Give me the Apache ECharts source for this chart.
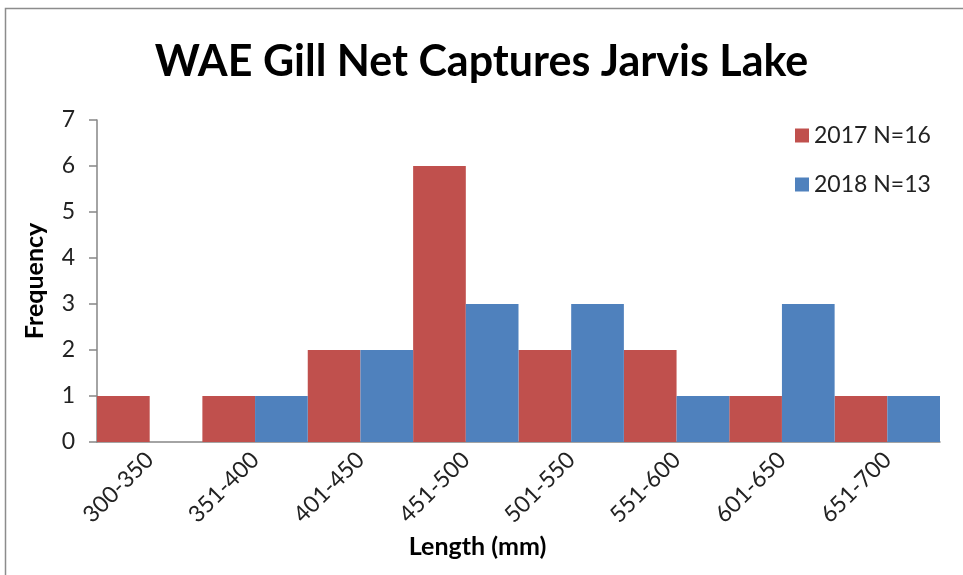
<!DOCTYPE html>
<html>
<head>
<meta charset="utf-8">
<script src="https://cdn.jsdelivr.net/npm/echarts@6/dist/echarts.min.js"></script>
<style>
  html, body { margin: 0; padding: 0; background: #fff; }
  #chart { width: 963px; height: 575px; }
</style>
</head>
<body>
<div id="chart"></div>
<script>
  var categories = ['300-350', '351-400', '401-450', '451-500', '501-550', '551-600', '601-650', '651-700']
  var data2017 = [1, 1, 2, 6, 2, 2, 1, 1]
  var data2018 = [0, 1, 2, 3, 3, 1, 3, 1]
  var yTicks = { min: 0, max: 7, interval: 1 }

  var font = 'Lato, "Open Sans", sans-serif'
  var axisGray = '#868686'

  var myChart = echarts.init(document.getElementById('chart'))
  myChart.setOption({
    animation: false,
    title: {
      text: 'WAE Gill Net Captures Jarvis Lake',
      left: 'center',
      top: 36,
      textStyle: { fontFamily: font, fontSize: 43, fontWeight: 'bold', color: '#000' }
    },
    legend: {
      orient: 'vertical',
      left: 790,
      top: 119,
      itemWidth: 14,
      itemHeight: 14,
      itemGap: 26,
      icon: 'rect',
      textStyle: { fontFamily: font, fontSize: 23, color: '#222' },
      data: ['2017 N=16', '2018 N=13']
    },
    grid: { left: 97, right: 23, top: 120, bottom: 133 },
    graphic: [{
      type: 'rect',
      shape: { x: 5.5, y: 8.5, width: 970, height: 580 },
      style: { fill: 'none', stroke: '#8c8c8c', lineWidth: 1.5 },
      silent: true
    }],
    xAxis: {
      type: 'category',
      data: categories,
      name: 'Length (mm)',
      nameLocation: 'middle',
      nameGap: 92,
      nameTextStyle: { fontFamily: font, fontSize: 25, fontWeight: 'bold', color: '#000', padding: [0, 82, 0, 0] },
      axisLine: { lineStyle: { color: axisGray, width: 1.5 } },
      axisTick: { length: 7, lineStyle: { color: axisGray, width: 1.5 } },
      axisLabel: { rotate: 45, margin: 14, fontFamily: font, fontSize: 23, color: '#222' }
    },
    yAxis: {
      type: 'value',
      min: yTicks.min,
      max: yTicks.max,
      interval: yTicks.interval,
      name: 'Frequency',
      nameLocation: 'middle',
      nameGap: 50,
      nameTextStyle: { fontFamily: font, fontSize: 25, fontWeight: 'bold', color: '#000' },
      splitLine: { show: false },
      axisLine: { show: true, lineStyle: { color: axisGray, width: 1.5 } },
      axisTick: { show: true, length: 8, lineStyle: { color: axisGray, width: 1.5 } },
      axisLabel: { margin: 22, fontFamily: font, fontSize: 23, color: '#222' }
    },
    series: [
      {
        name: '2017 N=16',
        type: 'bar',
        data: data2017,
        barGap: '0%',
        barCategoryGap: '0%',
        itemStyle: { color: '#C0504D' }
      },
      {
        name: '2018 N=13',
        type: 'bar',
        data: data2018,
        barGap: '0%',
        barCategoryGap: '0%',
        itemStyle: { color: '#4F81BD' }
      }
    ]
  })
</script>
</body>
</html>
